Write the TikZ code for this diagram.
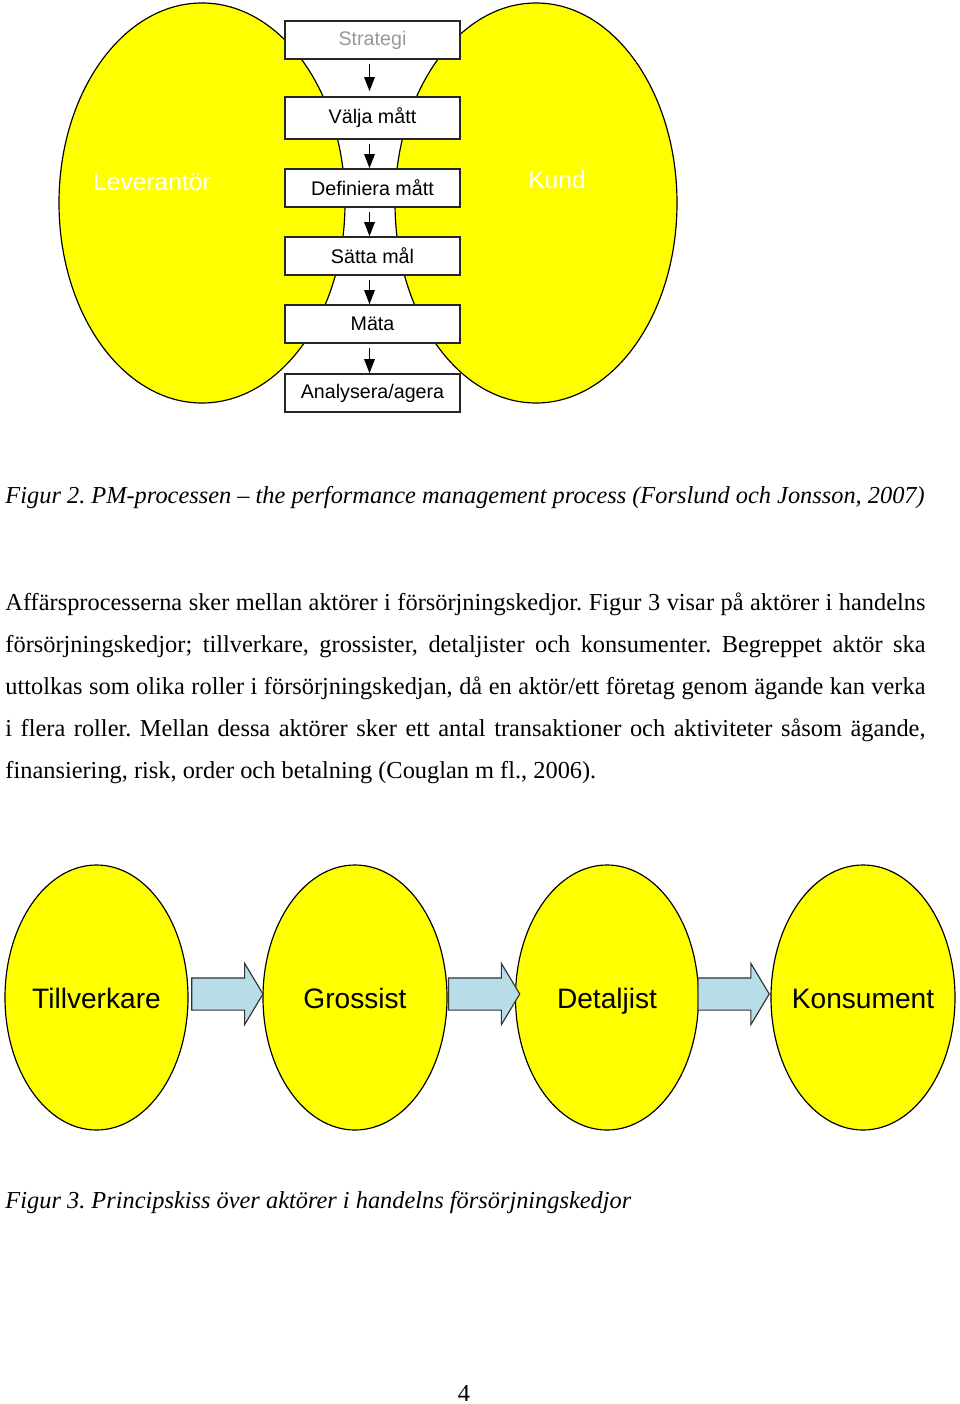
\documentclass[tikz,border=0pt]{standalone}
\usepackage{fontspec}
\setmainfont{Liberation Serif}
\setsansfont{Liberation Sans}
\usetikzlibrary{shapes.geometric,shapes.arrows,arrows.meta,calc}
\definecolor{gul}{RGB}{255,255,0}
\definecolor{ljusbla}{RGB}{183,221,232}
\frenchspacing
\begin{document}
\begin{tikzpicture}[x = 0.015cm, y = -0.015cm,
        pmbox/.style = {draw = black!85, line width = 0.6pt, fill = white, minimum width = 2.625cm, minimum height = 0.57cm, inner sep = 0pt, font = \sffamily\fontsize{8.4}{10}\selectfont},
        actor/.style = {ellipse, draw, line width = 0.5pt, fill = gul, inner sep = 0pt},
        flow/.style = {-{Triangle[length = 6pt, width = 4.4pt]}, line width = 0.8pt, shorten <= 0.06cm},
        blockpil/.style = {single arrow, draw = black!80, line width = 0.5pt, fill = ljusbla, minimum height = 1.07cm, inner xsep = 0pt, inner ysep = 0.2325cm, single arrow head extend = 0.2175cm, single arrow tip angle = 118},
        body/.style = {inner sep = 0pt, font = \fontsize{10.4}{12}\selectfont},
        caption/.style = {inner sep = 0pt, font = \itshape\fontsize{10.4}{12}\selectfont}]
        \useasboundingbox (0, 0) rectangle (960, 1404);

        % figur 2
        \node [actor, minimum width = 4.29cm, minimum height = 6cm] (lev) at (202, 203) {};
        \node [actor, minimum width = 4.23cm, minimum height = 6cm] (kund) at (536, 203) {};
        \node [anchor = base, white, font = \sffamily\fontsize{10.5}{12}\selectfont] (levtext) at (152, 191) {Leverantör};
        \node [anchor = base, white, font = \sffamily\fontsize{10.5}{12}\selectfont] (kundtext) at (557, 188) {Kund};

        \node [pmbox, text = black!40] (strategi) at (372.5, 40) {Strategi};
        \node [pmbox, minimum height = 0.63cm] (valja) at (372.5, 118) {Välja mått};
        \node [pmbox] (definiera) at (372.5, 188) {Definiera mått};
        \node [pmbox] (satta) at (372.5, 256) {Sätta mål};
        \node [pmbox] (mata) at (372.5, 324) {Mäta};
        \node [pmbox] (analysera) at (372.5, 393) {Analysera/agera};

        \draw [flow, shorten >= 0.075cm] ([xshift = -0.045cm]strategi.south) -- ([xshift = -0.045cm]valja.north);
        \foreach \a/\b in {valja/definiera, definiera/satta, satta/mata, mata/analysera}
            \draw [flow] ([xshift = -0.045cm]\a.south) -- ([xshift = -0.045cm]\b.north);

        \node [caption, anchor = base west] (fig2) at (5, 503) {Figur 2. PM-processen – the performance management process (Forslund och Jonsson, 2007)};

        % brodtext
        \node [body, anchor = base west] (rad1) at (5, 610) {\makebox[13.8cm][s]{Affärsprocesserna sker mellan aktörer i försörjningskedjor. Figur 3 visar på aktörer i handelns}};
        \node [body, anchor = base west] (rad2) at (5, 652) {\makebox[13.8cm][s]{försörjningskedjor; tillverkare, grossister, detaljister och konsumenter. Begreppet aktör ska}};
        \node [body, anchor = base west] (rad3) at (5, 694) {\makebox[13.8cm][s]{uttolkas som olika roller i försörjningskedjan, då en aktör/ett företag genom ägande kan verka}};
        \node [body, anchor = base west] (rad4) at (5, 736) {\makebox[13.8cm][s]{i flera roller. Mellan dessa aktörer sker ett antal transaktioner och aktiviteter såsom ägande,}};
        \node [body, anchor = base west] (rad5) at (5, 778) {finansiering, risk, order och betalning (Couglan m fl., 2006).};

        % figur 3
        \node [actor, minimum width = 2.745cm, minimum height = 3.975cm] (till) at (96.5, 997.5) {};
        \node [actor, minimum width = 2.76cm, minimum height = 3.975cm] (gross) at (355, 997.5) {};
        \node [actor, minimum width = 2.745cm, minimum height = 3.975cm] (detalj) at (607, 997.5) {};
        \node [actor, minimum width = 2.76cm, minimum height = 3.975cm] (kons) at (863, 997.5) {};
        \foreach \n/\t in {till/Tillverkare, gross/Grossist, detalj/Detaljist, kons/Konsument}
            \node [anchor = base, font = \sffamily\fontsize{12}{14}\selectfont] (\n text) at ([yshift = -0.165cm]\n.center) {\t};

        \node [blockpil] (pil1) at ($(till.east)!0.5!(gross.west) + (-3, -3.5)$) {};
        \node [blockpil] (pil2) at ($(gross.east)!0.5!(detalj.west) + (-2, -3.5)$) {};
        \node [blockpil] (pil3) at ($(detalj.east)!0.5!(kons.west) + (-6, -3.5)$) {};

        \node [caption, anchor = base west] (fig3) at (5, 1208) {Figur 3. Principskiss över aktörer i handelns försörjningskedjor};
        \node [body, anchor = base] (sida) at (464, 1401) {4};
    \end{tikzpicture}
\end{document}
